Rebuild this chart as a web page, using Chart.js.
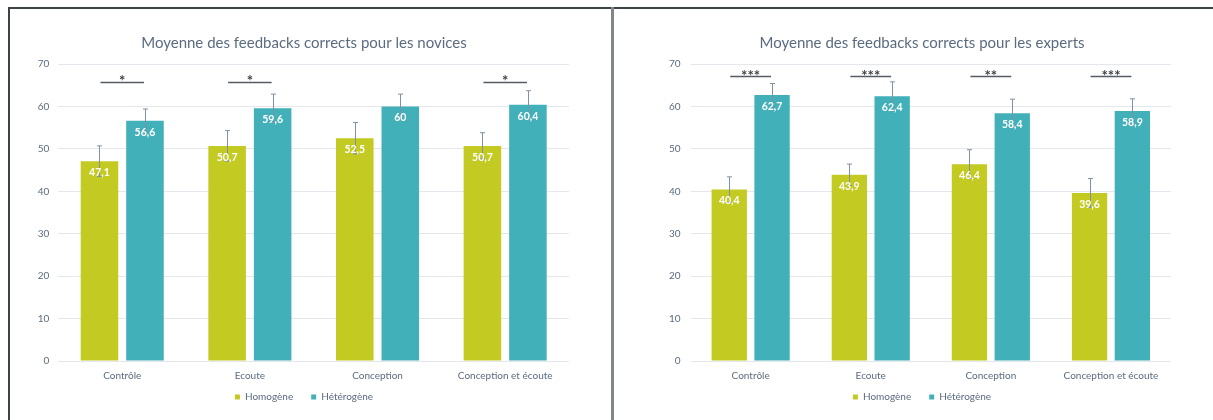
<!DOCTYPE html>
<html>
<head>
<meta charset="utf-8">
<script src="https://cdn.jsdelivr.net/npm/chart.js@4.4.0/dist/chart.umd.min.js"></script>
<style>
  html, body { margin: 0; padding: 0; background: #ffffff; }
  body { width: 1213px; height: 420px; position: relative; overflow: hidden; }
  .line { position: absolute; }
  canvas { position: absolute; }
</style>
</head>
<body>
<div class="line" style="left:8px; top:7px; width:1205px; height:2px; background:#3c4248;"></div>
<div class="line" style="left:8px; top:7px; width:2px; height:413px; background:#3c4248;"></div>
<div class="line" style="left:611px; top:7px; width:3px; height:413px; background:#80868c;"></div>
<canvas id="novices" width="600" height="410" style="left:10px; top:10px; width:600px; height:410px;"></canvas>
<canvas id="experts" width="599" height="410" style="left:614px; top:10px; width:599px; height:410px;"></canvas>
<script>
const categories = ['Contrôle', 'Ecoute', 'Conception', 'Conception et écoute'];
const seriesNames = ['Homogène', 'Hétérogène'];

const noviceHomogene = [47.1, 50.7, 52.5, 50.7];
const noviceHeterogene = [56.6, 59.6, 60, 60.4];
const noviceHomogeneErr = [3.6, 3.6, 3.7, 3.1];
const noviceHeterogeneErr = [2.8, 3.3, 2.9, 3.3];
const noviceSignif = ['*', '*', '', '*'];

const expertHomogene = [40.4, 43.9, 46.4, 39.6];
const expertHeterogene = [62.7, 62.4, 58.4, 58.9];
const expertHomogeneErr = [3.0, 2.5, 3.4, 3.4];
const expertHeterogeneErr = [2.7, 3.4, 3.3, 2.9];
const expertSignif = ['***', '***', '**', '***'];

const yMin = 0, yMax = 70, yStep = 10;

const COL_HOMO = '#c3ca22';
const COL_HETERO = '#42b0b8';
const TEXT_COL = '#5b6b80';
const FONT = 'Lato, "Open Sans", sans-serif';

const fmt = v => String(v).replace('.', ',');

const overlayPlugin = {
  id: 'overlay',
  afterDatasetsDraw(chart, args, opts) {
    const ctx = chart.ctx;
    const ys = chart.scales.y;
    ctx.save();
    chart.data.datasets.forEach((ds, di) => {
      const meta = chart.getDatasetMeta(di);
      meta.data.forEach((bar, i) => {
        const v = ds.data[i], e = ds.errors[i];
        const yt = ys.getPixelForValue(v + e);
        const yb = ys.getPixelForValue(v - e);
        const x = Math.round(bar.x) + 0.5;
        ctx.strokeStyle = '#8190a4';
        ctx.lineWidth = 1;
        ctx.beginPath();
        ctx.moveTo(x, yt); ctx.lineTo(x, yb);
        ctx.moveTo(x - 2.5, yt); ctx.lineTo(x + 2.5, yt);
        ctx.moveTo(x - 2.5, yb); ctx.lineTo(x + 2.5, yb);
        ctx.stroke();
      });
    });
    chart.data.datasets.forEach((ds, di) => {
      const meta = chart.getDatasetMeta(di);
      meta.data.forEach((bar, i) => {
        ctx.fillStyle = '#ffffff';
        ctx.font = 'bold 10.5px ' + FONT;
        ctx.textAlign = 'center';
        ctx.textBaseline = 'middle';
        ctx.fillText(fmt(ds.data[i]), bar.x, bar.y + 11.5);
      });
    });
    const m0 = chart.getDatasetMeta(0), m1 = chart.getDatasetMeta(1);
    const ly = Math.round(ys.getPixelForValue(opts.level)) + 0.5;
    opts.labels.forEach((lab, i) => {
      if (!lab) return;
      const x0 = m0.data[i].x + 1, x1 = m1.data[i].x - 1;
      ctx.strokeStyle = '#555c63';
      ctx.lineWidth = 1.5;
      ctx.beginPath();
      ctx.moveTo(x0, ly); ctx.lineTo(x1, ly);
      ctx.stroke();
      ctx.fillStyle = '#3f4348';
      ctx.font = 'bold 15px ' + FONT;
      ctx.textAlign = 'center';
      ctx.textBaseline = 'alphabetic';
      ctx.fillText(lab, (x0 + x1) / 2, ly + opts.starOffset);
    });
    ctx.restore();
  }
};

const noClip = s => { s._computeLabelArea = function () { return undefined; }; };

function makeChart(id, title, homo, hetero, homoErr, heteroErr, signif, cfg) {
  return new Chart(document.getElementById(id), {
    type: 'bar',
    data: {
      labels: categories,
      datasets: [
        { label: seriesNames[0], data: homo, errors: homoErr, backgroundColor: COL_HOMO,
          categoryPercentage: 0.713, barPercentage: 0.825 },
        { label: seriesNames[1], data: hetero, errors: heteroErr, backgroundColor: COL_HETERO,
          categoryPercentage: 0.713, barPercentage: 0.825 }
      ]
    },
    options: {
      responsive: false,
      animation: false,
      devicePixelRatio: 1,
      layout: { padding: { left: cfg.padL, right: cfg.padR, top: 0, bottom: 8 } },
      plugins: {
        title: {
          display: true, text: title, color: TEXT_COL,
          font: { family: FONT, size: 15, weight: 'normal', lineHeight: 1.2 },
          padding: { top: 24, bottom: 12 }
        },
        legend: {
          display: true, position: 'bottom',
          labels: { boxWidth: 5, boxHeight: 5, padding: 18, color: TEXT_COL,
                    font: { family: FONT, size: 10 } }
        },
        tooltip: { enabled: false },
        overlay: { labels: signif, level: cfg.level, starOffset: cfg.starOffset }
      },
      scales: {
        x: {
          grid: { display: false, drawTicks: false },
          border: { display: false },
          ticks: { color: TEXT_COL, font: { family: FONT, size: 10 }, padding: 9, maxRotation: 0, autoSkip: false },
          afterFit: s => { s.height = 13; noClip(s); }
        },
        y: {
          min: yMin, max: yMax,
          grid: { color: '#e4e7eb', drawTicks: false },
          border: { display: false },
          ticks: { stepSize: yStep, color: TEXT_COL, font: { family: FONT, size: 10 }, padding: cfg.tickPad },
          afterFit: s => { s.width = cfg.yW; noClip(s); }
        }
      }
    },
    plugins: [overlayPlugin]
  });
}

makeChart('novices', 'Moyenne des feedbacks corrects pour les novices',
  noviceHomogene, noviceHeterogene, noviceHomogeneErr, noviceHeterogeneErr, noviceSignif,
  { padL: 29, padR: 41, yW: 19.4, tickPad: 9, level: 65.8, starOffset: 3 });

makeChart('experts', 'Moyenne des feedbacks corrects pour les experts',
  expertHomogene, expertHeterogene, expertHomogeneErr, expertHeterogeneErr, expertSignif,
  { padL: 59, padR: 42, yW: 17.6, tickPad: 10, level: 67.1, starOffset: 4 });
</script>
</body>
</html>
